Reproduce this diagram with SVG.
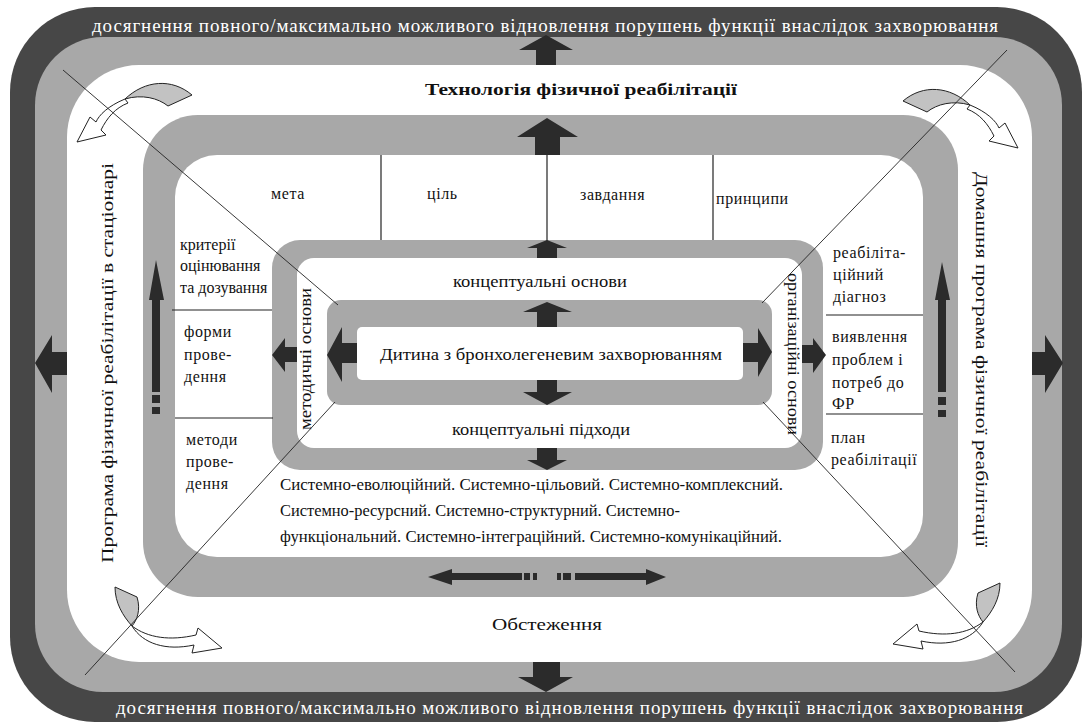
<svg xmlns="http://www.w3.org/2000/svg" width="1083" height="722" viewBox="0 0 1083 722">
<defs>
<style>
.dark{fill:#474747}
.band{fill:#a8a8a8}
.wh{fill:#fff}
.arr{fill:#2b2b2b}
.t{font-family:"Liberation Serif","Times New Roman",serif;fill:#111;font-size:16px}
.s{letter-spacing:0.6px}
.tw{font-family:"Liberation Serif","Times New Roman",serif;fill:#fff;font-size:19px}
.sep{stroke:#222;stroke-width:1.2;fill:none}
.diag{stroke:#222;stroke-width:0.9;fill:none}
.ctail{fill:#c2c2c2;stroke:#222;stroke-width:1}
.chead{fill:#fff;stroke:#222;stroke-width:1}
</style>
</defs>
<rect x="0" y="0" width="1083" height="722" fill="#fff"/>
<g id="frame">
<rect class="dark" x="10" y="7" width="1072" height="715" rx="85"/>
<rect class="band" x="35" y="37" width="1027" height="655" rx="68"/>
<rect class="wh" x="67" y="65" width="965" height="597" rx="72"/>
<rect class="band" x="143" y="115" width="815" height="482" rx="55"/>
<rect class="wh" x="175" y="155" width="748" height="402" rx="42"/>
<rect class="band" x="272" y="240" width="551" height="230" rx="28"/>
<rect class="wh" x="297" y="258" width="505" height="190" rx="17"/>
<rect class="band" x="327" y="300" width="445" height="105" rx="14"/>
<rect class="wh" x="357" y="327" width="386" height="53" rx="5"/>
</g>
<g id="connectors">
<g id="separators">
<line class="sep" x1="381" y1="155" x2="381" y2="240"/>
<line class="sep" x1="547" y1="155" x2="547" y2="242"/>
<line class="sep" x1="713" y1="155" x2="713" y2="240"/>
<line class="sep" x1="172" y1="310" x2="272" y2="310"/>
<line class="sep" x1="175" y1="418" x2="273" y2="418"/>
<line class="sep" x1="826" y1="315" x2="923" y2="315"/>
<line class="sep" x1="826" y1="414" x2="923" y2="414" stroke-width="2"/>
</g>
<g id="block-arrows">
<polygon class="arr" points="546,35 573,50 556,50 556,65 536,65 536,50 519,50"/>
<polygon class="arr" points="547,118 578,137 560,137 560,155 535,155 535,137 517,137"/>
<polygon class="arr" points="547,240 567,248 557,248 557,258 537,258 537,248 527,248"/>
<polygon class="arr" points="547,302 572,312 557,312 557,327 537,327 537,312 523,312"/>
<polygon class="arr" points="537,380 557,380 557,392 572,392 547,405 523,392 537,392"/>
<polygon class="arr" points="537,448 557,448 557,460 567,460 547,470 527,460 537,460"/>
<polygon class="arr" points="533,662 560,662 560,677 573,677 546,692 518,677 533,677"/>
<polygon class="arr" points="35,363 52,335 52,352 67,352 67,375 52,375 52,393"/>
<polygon class="arr" points="272,355 285,338 285,347 297,347 297,362 285,362 285,372"/>
<polygon class="arr" points="327,355 342,327 342,343 357,343 357,363 342,363 342,382"/>
<polygon class="arr" points="772,352 758,328 758,343 743,343 743,362 758,362 758,377"/>
<polygon class="arr" points="826,355 813,338 813,345 802,345 802,363 813,363 813,373"/>
<polygon class="arr" points="1063,363 1045,335 1045,352 1032,352 1032,375 1045,375 1045,393"/>
</g>
<g id="progress-arrows">
<polygon class="arr" points="156,260 164,300 160,300 160,392 152,392 152,300 149,300"/>
<rect class="arr" x="152" y="395" width="8" height="8"/>
<rect class="arr" x="152" y="407" width="8" height="7"/>
<polygon class="arr" points="942,262 950,300 946,300 946,392 938,392 938,300 935,300"/>
<rect class="arr" x="938" y="397" width="8" height="8"/>
<rect class="arr" x="938" y="410" width="8" height="7"/>
<polygon class="arr" points="428,577 452,569 452,573 522,573 522,580 452,580 452,585"/>
<rect class="arr" x="524" y="573" width="6" height="7"/>
<rect class="arr" x="533" y="573" width="4" height="7"/>
<rect class="arr" x="557" y="573" width="4" height="7"/>
<rect class="arr" x="563" y="573" width="8" height="7"/>
<polygon class="arr" points="666,577 646,569 646,573 575,573 575,580 646,580 646,585"/>
</g>
<g id="cycle-arrows">
<g id="cyc-tl">
<path class="ctail" d="M192,95 C172,78 145,80 125,99 C142,94 158,98 168,106 Z"/>
<path class="chead" d="M125,99 C108,106 99,115 96,122 L90,117 L77,142 L106,135 L101,130 C107,118 115,108 128,103 Z"/>
</g>
<g id="cyc-tr" transform="matrix(-1 0 0 1 1095 6)">
<path class="ctail" d="M192,95 C172,78 145,80 125,99 C142,94 158,98 168,106 Z"/>
<path class="chead" d="M125,99 C108,106 99,115 96,122 L90,117 L77,142 L106,135 L101,130 C107,118 115,108 128,103 Z"/>
</g>
<g id="cyc-bl">
<path class="ctail" d="M115,587 L137,597 C141,610 137,620 132,626 C123,616 115,603 115,587 Z"/>
<path class="chead" d="M132,626 C148,638 170,641 196,635 L198,628 L222,648 L192,653 L194,645 C166,651 143,644 132,626 Z"/>
</g>
<g id="cyc-br" transform="matrix(-1 0 0 1 1115 -4)">
<path class="ctail" d="M115,587 L137,597 C141,610 137,620 132,626 C123,616 115,603 115,587 Z"/>
<path class="chead" d="M132,626 C148,638 170,641 196,635 L198,628 L222,648 L192,653 L194,645 C166,651 143,644 132,626 Z"/>
</g>
</g>
<g id="diagonals">
<line class="diag" x1="63" y1="70" x2="338" y2="305"/>
<line class="diag" x1="85" y1="675" x2="335" y2="402"/>
<line class="diag" x1="1007" y1="50" x2="762" y2="303"/>
<line class="diag" x1="1015" y1="672" x2="763" y2="402"/>
</g>
</g>
<g id="goal-top"><text class="tw" x="92" y="32" textLength="906" lengthAdjust="spacing">досягнення повного/максимально можливого відновлення порушень функції внаслідок захворювання</text></g>
<g id="goal-bottom"><text class="tw" x="116" y="714" textLength="907" lengthAdjust="spacing">досягнення повного/максимально можливого відновлення порушень функції внаслідок захворювання</text></g>
<g id="technology"><text class="t" x="425" y="95" font-size="20" font-weight="bold" textLength="312" lengthAdjust="spacingAndGlyphs">Технологія фізичної реабілітації</text></g>
<g id="examination"><text class="t" x="492" y="630" font-size="20" textLength="110" lengthAdjust="spacingAndGlyphs">Обстеження</text></g>
<g id="program-inpatient"><text class="t" font-size="20" transform="translate(113,563) rotate(-90)" textLength="400" lengthAdjust="spacingAndGlyphs">Програма фізичної реабілітації в стаціонарі</text></g>
<g id="program-home"><text class="t" font-size="20" transform="translate(976,172) rotate(90)" textLength="375" lengthAdjust="spacingAndGlyphs">Домашня програма фізичної реабілітації</text></g>
<g id="goal"><text class="t s" x="271" y="199">мета</text></g>
<g id="aim"><text class="t s" x="427" y="199">ціль</text></g>
<g id="tasks"><text class="t s" x="580" y="200">завдання</text></g>
<g id="principles"><text class="t s" x="716" y="204">принципи</text></g>
<g id="criteria" class="t" font-size="14.5">
<text x="180" y="250">критерії</text>
<text x="180" y="271">оцінювання</text>
<text x="180" y="293">та дозування</text>
</g>
<g id="forms" class="t s">
<text x="184" y="337">форми</text>
<text x="184" y="360">прове-</text>
<text x="184" y="382">дення</text>
</g>
<g id="methods" class="t s">
<text x="186" y="445">методи</text>
<text x="186" y="467">прове-</text>
<text x="186" y="489">дення</text>
</g>
<g id="diagnosis" class="t s">
<text x="833" y="258">реабіліта-</text>
<text x="833" y="280">ційний</text>
<text x="833" y="302">діагноз</text>
</g>
<g id="problems" class="t s">
<text x="832" y="342">виявлення</text>
<text x="832" y="365">проблем і</text>
<text x="832" y="388">потреб до</text>
<text x="832" y="409">ФР</text>
</g>
<g id="plan" class="t s">
<text x="831" y="443">план</text>
<text x="831" y="465">реабілітації</text>
</g>
<g id="conceptual-bases"><text class="t" x="453" y="287" font-size="17" textLength="174" lengthAdjust="spacingAndGlyphs">концептуальні основи</text></g>
<g id="child"><text class="t" x="380" y="360" font-size="17" textLength="342" lengthAdjust="spacingAndGlyphs">Дитина з бронхолегеневим захворюванням</text></g>
<g id="conceptual-approaches"><text class="t" x="452" y="435" font-size="17" textLength="178" lengthAdjust="spacingAndGlyphs">концептуальні підходи</text></g>
<g id="methodical-bases"><text class="t" font-size="14" transform="translate(311,430) rotate(-90)" textLength="142" lengthAdjust="spacingAndGlyphs">методичні основи</text></g>
<g id="organizational-bases"><text class="t" font-size="14" transform="translate(788,273) rotate(90)" textLength="162" lengthAdjust="spacingAndGlyphs">організаційні основи</text></g>
<g id="approaches-list" class="t">
<text x="280" y="490" textLength="503" lengthAdjust="spacingAndGlyphs">Системно-еволюційний. Системно-цільовий. Системно-комплексний.</text>
<text x="280" y="516" textLength="400" lengthAdjust="spacingAndGlyphs">Системно-ресурсний. Системно-структурний. Системно-</text>
<text x="280" y="542" textLength="502" lengthAdjust="spacingAndGlyphs">функціональний. Системно-інтеграційний. Системно-комунікаційний.</text>
</g>
</svg>
